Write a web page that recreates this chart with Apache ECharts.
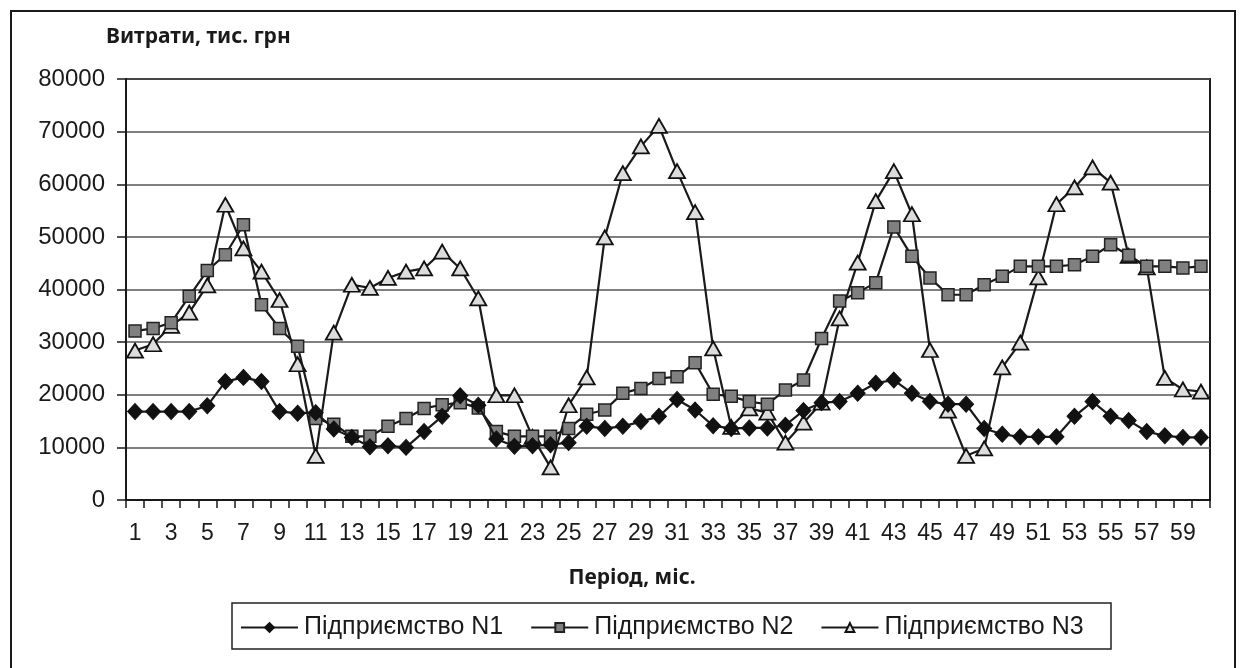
<!DOCTYPE html>
<html>
<head>
<meta charset="utf-8">
<script src="https://cdn.jsdelivr.net/npm/echarts@6/dist/echarts.min.js"></script>
<style>
html,body{margin:0;padding:0;background:#fff;}
#chart{width:1240px;height:668px;}
</style>
</head>
<body>
<div id="chart"></div>
<script>
const periods = Array.from({length: 60}, (_, i) => String(i + 1));
const yTicks = [0, 10000, 20000, 30000, 40000, 50000, 60000, 70000, 80000];
const seriesNames = ['Підприємство N1', 'Підприємство N2', 'Підприємство N3'];
const n1 = [16800,16800,16800,16800,17900,22500,23300,22500,16800,16500,
            16600,13500,11900,10100,10300,10000,13000,15900,19800,18000,
            11600,10200,10300,10500,10900,14000,13600,14000,14900,15900,
            19100,17100,14100,13600,13700,13700,14200,17000,18500,18700,
            20300,22200,22800,20300,18700,18200,18200,13600,12500,12000,
            12000,12000,15900,18700,15900,15100,13000,12200,11900,11900];
const n2 = [32100,32600,33700,38700,43600,46600,52300,37100,32600,29200,
            15500,14400,12100,12100,14000,15500,17400,18100,18500,17500,
            13000,12100,12100,12100,13600,16300,17100,20300,21200,23100,
            23400,26100,20100,19700,18700,18200,20900,22800,30700,37800,
            39400,41300,51900,46300,42200,39000,39000,40900,42500,44400,
            44400,44400,44700,46300,48500,46500,44400,44400,44100,44400];
const n3 = [28400,29600,33100,35600,40800,56100,47800,43400,38000,25800,
            8400,31800,40900,40300,42200,43400,44000,47200,44000,38300,
            19900,19900,12000,6200,18000,23300,49900,62100,67200,71100,
            62500,54700,28800,13900,17400,16600,10900,14700,18500,34500,
            45100,56800,62500,54300,28500,17000,8400,9800,25200,29900,
            42300,56200,59400,63200,60300,46400,44200,23200,21000,20600];

const chart = echarts.init(document.getElementById('chart'), null, {renderer: 'canvas'});
const FONT = '"Liberation Sans", Arial, sans-serif';
const lineStyle = {color: '#1a1a1a', width: 2.2};
const option = {
  animation: false,
  backgroundColor: '#fff',
  textStyle: {fontFamily: FONT},
  grid: {left: 126, right: 30, top: 79, bottom: 168, show: true, borderColor: '#1a1a1a', borderWidth: 2},
  graphic: [
    {type: 'rect', shape: {x: 11, y: 11, width: 1224, height: 680}, style: {fill: 'none', stroke: '#1a1a1a', lineWidth: 2}, silent: true, z: -1},
    {type: 'rect', shape: {x: 232, y: 603, width: 879, height: 46}, style: {fill: 'none', stroke: '#222', lineWidth: 1.5}, silent: true},
    {type: 'text', x: 106, y: 37, style: {text: 'Витрати, тис. грн', font: 'bold 21px "Noto Sans", sans-serif', fill: '#1a1a1a', textVerticalAlign: 'middle'}},
    {type: 'text', x: 632, y: 578, style: {text: 'Період, міс.', font: 'bold 21px "Noto Sans", sans-serif', fill: '#1a1a1a', textAlign: 'center', textVerticalAlign: 'middle'}}
  ],
  legend: {
    left: 240, top: 615, padding: 0,
    itemWidth: 57, itemHeight: 11, itemGap: 27,
    textStyle: {fontSize: 25, color: '#1a1a1a', fontFamily: FONT, width: 203, padding: [0, 0, 0, 1]},
    data: seriesNames
  },
  xAxis: {
    type: 'category', data: periods, boundaryGap: true,
    axisLine: {lineStyle: {color: '#1a1a1a', width: 2}},
    axisTick: {show: true, interval: 0, length: 8, lineStyle: {color: '#1a1a1a', width: 1.5}},
    axisLabel: {interval: 1, fontSize: 23, color: '#1a1a1a', margin: 22, fontFamily: FONT},
    splitLine: {show: false}
  },
  yAxis: {
    type: 'value', min: 0, max: 80000, interval: 10000,
    axisLine: {show: true, lineStyle: {color: '#1a1a1a', width: 2}},
    axisTick: {show: true, length: 9, lineStyle: {color: '#1a1a1a', width: 1.5}},
    axisLabel: {fontSize: 24, color: '#1a1a1a', margin: 21, fontFamily: FONT,
      formatter: v => yTicks.includes(v) ? String(v) : ''},
    splitLine: {lineStyle: {color: '#555', width: 1.5}}
  },
  series: [
    {name: seriesNames[0], type: 'line', data: n1, symbol: 'diamond', symbolSize: [15, 16],
     showSymbol: true, showAllSymbol: true,
     itemStyle: {color: '#111', borderColor: '#111', borderWidth: 1}, lineStyle: lineStyle, z: 4},
    {name: seriesNames[1], type: 'line', data: n2, symbol: 'rect', symbolSize: 12,
     showSymbol: true, showAllSymbol: true,
     itemStyle: {color: '#808080', borderColor: '#222', borderWidth: 1.5}, lineStyle: lineStyle, z: 3},
    {name: seriesNames[2], type: 'line', data: n3, symbol: 'triangle', symbolSize: [16, 14],
     showSymbol: true, showAllSymbol: true,
     itemStyle: {color: '#dcdcdc', borderColor: '#111', borderWidth: 1.8}, lineStyle: lineStyle, z: 2}
  ]
};
chart.setOption(option);
</script>
</body>
</html>
